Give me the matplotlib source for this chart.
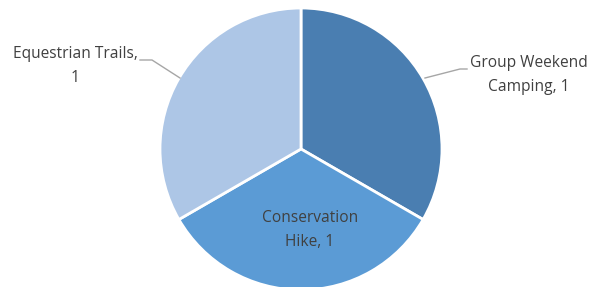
import matplotlib
matplotlib.use("Agg")
import matplotlib.pyplot as plt

categories = ["Group Weekend Camping", "Conservation Hike", "Equestrian Trails"]
values = [1, 1, 1]
colors = ["#4a7eb1", "#5b9bd5", "#adc6e6"]

W, H = 606, 287
fig = plt.figure(figsize=(W / 100, H / 100), dpi=100)
ax = fig.add_axes([0, 0, 1, 1])

cx, cy, r = 301, H - 149, 141
ax.pie(values, colors=colors, startangle=90, counterclock=False,
       center=(cx, cy), radius=r, frame=True,
       wedgeprops=dict(edgecolor="white", linewidth=2))
ax.set_xlim(0, W)
ax.set_ylim(0, H)
ax.set_aspect("equal")
ax.axis("off")

txt = dict(fontsize=11.2, color="#404040", family="Open Sans", ha="center", va="center",
           linespacing=1.6)
ax.text(529, H - 75, "Group Weekend\nCamping, 1", **txt)
ax.text(310, H - 230, "Conservation\nHike, 1", **txt)
ax.text(75, H - 66, "Equestrian Trails,\n1", **txt)

lc = "#a6a6a6"
ax.plot([425, 460, 467], [H - 78, H - 69, H - 69], color=lc, lw=1)
ax.plot([140, 152, 180], [H - 60, H - 60, H - 78], color=lc, lw=1)

fig.savefig("out.png", dpi=100)
